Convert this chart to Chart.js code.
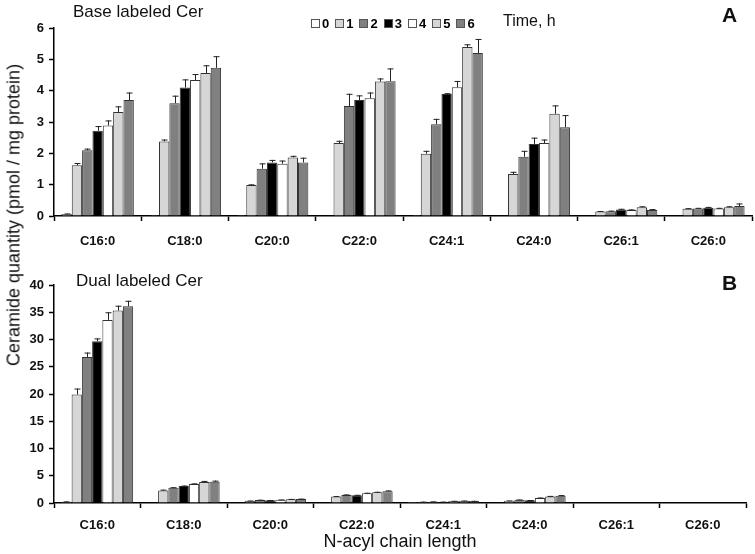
<!DOCTYPE html>
<html>
<head>
<meta charset="utf-8">
<script src="https://cdn.jsdelivr.net/npm/chart.js@4"></script>
<style>
    body { margin: 0; background: #fff; font-family: "Liberation Sans", Arial, sans-serif; }
    #wrap { position: relative; width: 755px; height: 554px; overflow: hidden; }
    canvas { position: absolute; left: 0; }
    .txt { position: absolute; white-space: nowrap; color: #111; line-height: 1; }
    .panel-title { font-size: 17px; }
    .letter { font-size: 21px; font-weight: bold; }
    #legend { position: absolute; left: 311px; top: 17px; display: flex; font-size: 13px; font-weight: bold; line-height: 1; }
    #legend span { display: flex; align-items: center; margin-right: 6px; }
    #legend i { display: inline-block; width: 7px; height: 7px; border: 1px solid #555; margin-right: 2px; }
    #ytitle { position: absolute; font-size: 18px; white-space: nowrap; color: #111;
              left: 14px; top: 215px; transform: translate(-50%, -50%) rotate(-90deg); }
</style>
</head>
<body>
<div id="wrap">
    <canvas id="chartA" width="755" height="260" style="top:0"></canvas>
    <canvas id="chartB" width="755" height="296" style="top:258px"></canvas>

    <div class="txt panel-title" style="left:73px; top:3px;">Base labeled Cer</div>
    <div class="txt panel-title" style="left:76px; top:272px;">Dual labeled Cer</div>
    <div class="txt letter" style="left:722px; top:4px;">A</div>
    <div class="txt letter" style="left:722px; top:272px;">B</div>
    <div id="legend"></div>
    <div class="txt" style="left:503px; top:13px; font-size:16px;">Time, h</div>
    <div id="ytitle">Ceramide quantity (pmol / mg protein)</div>
</div>

<script>
// Categories and time points
const categories = ['C16:0', 'C18:0', 'C20:0', 'C22:0', 'C24:1', 'C24:0', 'C26:1', 'C26:0'];
const timePoints = ['0', '1', '2', '3', '4', '5', '6'];
const barColors = ['#ffffff', '#d6d6d6', '#808080', '#000000', '#ffffff', '#d6d6d6', '#808080'];

// Panel A - base labeled Cer, one row per category (values at t = 0..6 h)
const baseMeans = [
    [0.06, 1.62, 2.10, 2.72, 2.89, 3.32, 3.70],
    [0.02, 2.38, 3.60, 4.10, 4.34, 4.56, 4.73],
    [0.02, 0.99, 1.51, 1.71, 1.67, 1.87, 1.71],
    [0.01, 2.33, 3.51, 3.70, 3.76, 4.29, 4.30],
    [0.02, 1.99, 2.93, 3.89, 4.11, 5.39, 5.20],
    [0.01, 1.34, 1.89, 2.30, 2.33, 3.26, 2.83],
    [0.00, 0.14, 0.15, 0.21, 0.19, 0.28, 0.19],
    [0.00, 0.23, 0.24, 0.26, 0.24, 0.28, 0.32]
];
const baseErrors = [
    [0.02, 0.07, 0.05, 0.15, 0.16, 0.18, 0.24],
    [0.01, 0.06, 0.24, 0.26, 0.19, 0.25, 0.37],
    [0.01, 0.02, 0.17, 0.08, 0.10, 0.05, 0.15],
    [0.00, 0.07, 0.39, 0.15, 0.18, 0.10, 0.41],
    [0.01, 0.09, 0.17, 0.03, 0.20, 0.09, 0.45],
    [0.00, 0.07, 0.19, 0.20, 0.11, 0.27, 0.39],
    [0.00, 0.02, 0.02, 0.02, 0.02, 0.03, 0.03],
    [0.00, 0.02, 0.02, 0.03, 0.02, 0.03, 0.08]
];

// Panel B - dual labeled Cer
const dualMeans = [
    [0.2, 19.9, 26.8, 29.7, 33.6, 35.3, 36.1],
    [0.1, 2.3, 2.8, 3.1, 3.5, 3.85, 3.9],
    [0.05, 0.4, 0.55, 0.5, 0.6, 0.7, 0.75],
    [0.05, 1.17, 1.47, 1.4, 1.78, 1.96, 2.15],
    [0.02, 0.2, 0.25, 0.2, 0.35, 0.4, 0.35],
    [0.05, 0.42, 0.6, 0.5, 0.9, 1.2, 1.35],
    [0, 0, 0, 0, 0, 0, 0],
    [0, 0, 0, 0, 0, 0, 0]
];
const dualErrors = [
    [0.1, 1.1, 0.8, 0.5, 1.4, 0.9, 1.0],
    [0, 0.15, 0.1, 0.1, 0.1, 0.2, 0.2],
    [0, 0.05, 0.05, 0.05, 0.05, 0.05, 0.05],
    [0, 0.1, 0.1, 0.1, 0.1, 0.1, 0.15],
    [0, 0.05, 0.05, 0.05, 0.05, 0.05, 0.05],
    [0, 0.05, 0.05, 0.05, 0.1, 0.1, 0.1],
    [0, 0, 0, 0, 0, 0, 0],
    [0, 0, 0, 0, 0, 0, 0]
];

// Legend
const legend = document.getElementById('legend');
timePoints.forEach((t, i) => {
    const item = document.createElement('span');
    item.innerHTML = `<i style="background:${barColors[i]}"></i>${t}`;
    legend.appendChild(item);
});

// Draws upward error bars with a small cap
const errorBars = {
    id: 'errorBars',
    afterDatasetsDraw(chart) {
        const ctx = chart.ctx;
        const yScale = chart.scales.y;
        ctx.save();
        ctx.strokeStyle = '#222';
        ctx.lineWidth = 1;
        chart.data.datasets.forEach((ds, i) => {
            const meta = chart.getDatasetMeta(i);
            meta.data.forEach((bar, j) => {
                const err = ds.errors[j];
                if (!err) return;
                const top = yScale.getPixelForValue(ds.data[j] + err);
                const x = Math.round(bar.x) + 0.5;
                ctx.beginPath();
                ctx.moveTo(x, bar.y);
                ctx.lineTo(x, top);
                ctx.moveTo(x - 3, top + 0.5);
                ctx.lineTo(x + 3, top + 0.5);
                ctx.stroke();
            });
        });
        ctx.restore();
    }
};

function buildDatasets(means, errors) {
    return timePoints.map((t, i) => ({
        label: t,
        data: means.map(row => row[i]),
        errors: errors.map(row => row[i]),
        backgroundColor: barColors[i],
        borderColor: '#333',
        borderWidth: 1,
        categoryPercentage: 0.83,
        barPercentage: 1.0
    }));
}

function makeChart(id, means, errors, yMax, yStep, opts) {
    return new Chart(document.getElementById(id), {
        type: 'bar',
        data: {
            labels: categories,
            datasets: buildDatasets(means, errors)
        },
        plugins: [errorBars],
        options: {
            responsive: false,
            animation: false,
            layout: { padding: opts.padding },
            plugins: {
                legend: { display: false },
                tooltip: { enabled: false }
            },
            scales: {
                x: {
                    grid: { drawOnChartArea: false, tickLength: 5, color: '#000', tickWidth: 1.5 },
                    border: { color: '#000', width: 1.5 },
                    ticks: {
                        color: '#111',
                        padding: opts.labelPad,
                        font: { family: 'Liberation Sans', size: 13, weight: 'bold' }
                    },
                    title: opts.xTitle ? {
                        display: true,
                        text: opts.xTitle,
                        color: '#111',
                        padding: { top: 0, bottom: 1 },
                        font: { family: 'Liberation Sans', size: 18 }
                    } : { display: false },
                    afterFit(scale) { scale.height = opts.xHeight; }
                },
                y: {
                    min: 0,
                    max: yMax,
                    ticks: {
                        stepSize: yStep,
                        color: '#111',
                        padding: 5,
                        font: { family: 'Liberation Sans', size: 13, weight: 'bold' }
                    },
                    grid: { drawOnChartArea: false, tickLength: 5, color: '#000', tickWidth: 1.5 },
                    border: { color: '#000', width: 1.5 },
                    afterFit(scale) { scale.width = 54; }
                }
            }
        }
    });
}

makeChart('chartA', baseMeans, baseErrors, 6, 1, {
    padding: { left: 0, right: 3, top: 28, bottom: 0 },
    xHeight: 44,
    labelPad: 13
});

makeChart('chartB', dualMeans, dualErrors, 40, 5, {
    padding: { left: 0, right: 9, top: 27, bottom: 0 },
    xHeight: 51,
    labelPad: 10,
    xTitle: 'N-acyl chain length'
});
</script>
</body>
</html>
